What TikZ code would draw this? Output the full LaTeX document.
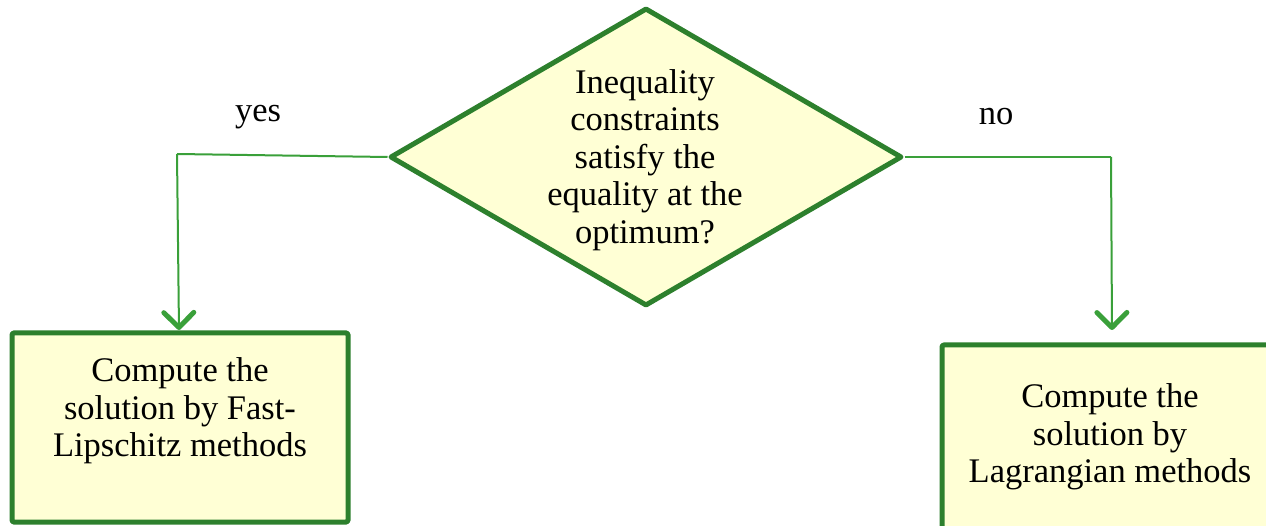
\documentclass[tikz,border=0pt]{standalone}
\usepackage{fontspec}
\setmainfont{Liberation Serif}
\usetikzlibrary{shapes.geometric,arrows.meta}
\definecolor{borderg}{RGB}{45,128,45}
\definecolor{lineg}{RGB}{58,160,58}
\definecolor{filly}{RGB}{255,255,213}
\tikzset{
  shapeline/.style={draw=borderg, line width=5pt, fill=filly, line join=round},
  boxnode/.style={shapeline, rectangle, rounded corners=1.5pt, inner sep=0pt},
  txt/.style={align=center, inner sep=0pt, font=\fontsize{34.5}{37.5}\selectfont},
  lbl/.style={inner sep=0pt, font=\fontsize{34.5}{37.5}\selectfont},
  conn/.style={draw=lineg, line width=2pt},
  arr/.style={conn, -{Straight Barb[length=15pt,width=30pt,line width=5pt,round]}}
}
\begin{document}
\begin{tikzpicture}[x=1pt,y=-1pt]
\useasboundingbox (0,0) rectangle (1266,526);
% decision
\node[shapeline, diamond, minimum width=512pt, minimum height=298pt, inner sep=0pt] (dec) at (646,157) {};
\node[txt] (dectxt) at (645,160) {Inequality\\constraints\\satisfy the\\equality at the\\optimum?};
% boxes
\node[boxnode, minimum width=336pt, minimum height=189pt] (lbox) at (180,427.5) {};
\node[txt] (ltxt) at (180,411) {Compute the\\solution by Fast-\\Lipschitz methods};
\node[boxnode, minimum width=340pt, minimum height=200pt] (rbox) at (1112,445) {};
\node[txt] (rtxt) at (1110,437) {Compute the\\solution by\\Lagrangian methods};
% labels
\node[lbl] (yes) at (258,117) {yes};
\node[lbl] (no) at (996,117) {no};
% connectors
\coordinate (lc) at (177,154);
\coordinate (rc) at (1111,157);
\coordinate (la) at (179,330);
\coordinate (ra) at (1112,330);
\draw[conn] (dec.west) -- (lc);
\draw[arr] (lc) -- (la);
\draw[conn] (dec.east) -- (rc);
\draw[arr] (rc) -- (ra);
\end{tikzpicture}
\end{document}
